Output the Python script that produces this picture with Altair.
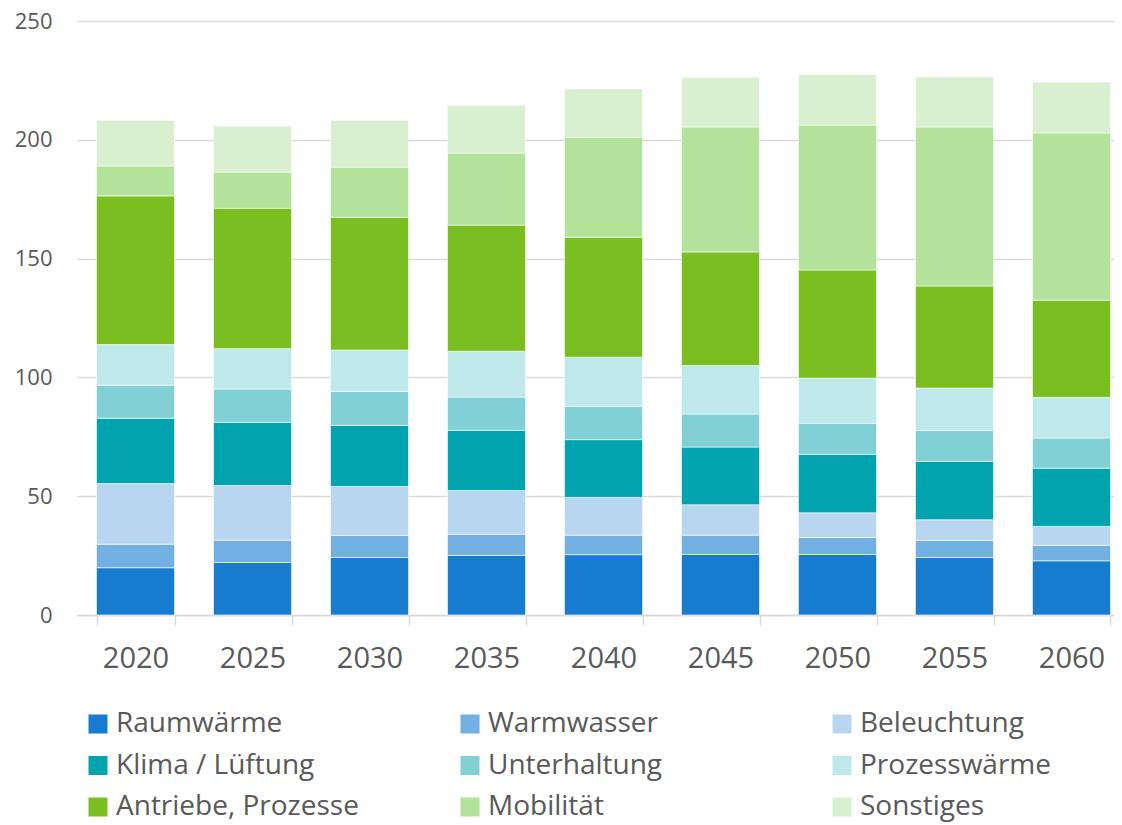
import altair as alt
import pandas as pd

years = ["2020", "2025", "2030", "2035", "2040", "2045", "2050", "2055", "2060"]
categories = ["Raumwärme", "Warmwasser", "Beleuchtung", "Klima / Lüftung", "Unterhaltung",
              "Prozesswärme", "Antriebe, Prozesse", "Mobilität", "Sonstiges"]
colors = ["#177bd0", "#72afe2", "#b9d6f0", "#00a3ae", "#81d0d5",
          "#bfe8ea", "#7abe21", "#b3e29b", "#d9f0d0"]

raumwaerme = [19.9, 22.1, 24.2, 25.1, 25.4, 25.5, 25.5, 24.2, 22.8]
warmwasser = [9.9, 9.4, 9.3, 8.9, 8.2, 8.1, 7.1, 7.2, 6.5]
beleuchtung = [25.5, 23.0, 20.6, 18.4, 15.9, 12.8, 10.4, 8.7, 8.0]
klima = [27.5, 26.6, 25.7, 25.3, 24.3, 24.3, 24.6, 24.6, 24.5]
unterhaltung = [13.9, 14.0, 14.3, 14.0, 14.0, 13.9, 13.1, 13.0, 12.7]
prozesswaerme = [17.1, 17.0, 17.4, 19.3, 20.7, 20.4, 19.0, 17.8, 17.1]
antriebe = [62.6, 59.1, 55.9, 53.1, 50.5, 47.8, 45.5, 43.0, 40.9]
mobilitaet = [12.6, 15.2, 21.1, 30.3, 42.0, 52.6, 61.0, 66.9, 70.4]
sonstiges = [19.2, 19.4, 19.7, 20.1, 20.4, 20.9, 21.3, 21.1, 21.4]

series = [raumwaerme, warmwasser, beleuchtung, klima, unterhaltung,
          prozesswaerme, antriebe, mobilitaet, sonstiges]

rows = []
for ci, (cat, vals) in enumerate(zip(categories, series)):
    for y, v in zip(years, vals):
        rows.append({"Jahr": y, "Kategorie": cat, "Wert": v, "idx": ci})
df = pd.DataFrame(rows)

FONT = "Open Sans"
TXT = "#595959"

chart = alt.Chart(df).mark_bar(stroke="white", strokeWidth=0.6).encode(
    x=alt.X("Jahr:N", sort=years, title=None,
            scale=alt.Scale(paddingInner=0.333, paddingOuter=0.1667, range=[0, 1053]),
            axis=alt.Axis(labelAngle=0, labelFontSize=29, labelColor=TXT, labelFont=FONT,
                          labelPadding=19, tickBand="extent", ticks=True, tickSize=10,
                          tickColor="#d9d9d9", tickWidth=1.5, domainColor="#d9d9d9",
                          domainWidth=1.5, grid=False)),
    y=alt.Y("Wert:Q", title=None, stack="zero",
            scale=alt.Scale(domain=[0, 250], nice=False),
            axis=alt.Axis(values=[0, 50, 100, 150, 200, 250], labelFontSize=22,
                          labelColor=TXT, labelFont=FONT, labelPadding=25, ticks=False,
                          domain=False, grid=True, gridColor="#d9d9d9", gridWidth=1.3)),
    color=alt.Color("Kategorie:N", sort=categories,
                    scale=alt.Scale(domain=categories, range=colors),
                    legend=alt.Legend(title=None, orient="none", legendX=7, legendY=689,
                                      direction="horizontal", columns=3, gridAlign="all",
                                      columnPadding=97, rowPadding=13.5, symbolType="square",
                                      symbolSize=361, symbolStrokeWidth=0, labelFontSize=28,
                                      labelColor=TXT, labelFont=FONT, labelOffset=4,
                                      labelLimit=400, padding=0)),
    order=alt.Order("idx:Q", sort="ascending"),
).properties(
    width=1037, height=594,
    autosize=alt.AutoSizeParams(type="none"),
    padding={"left": 69, "top": 13, "right": 0, "bottom": 209},
).configure_view(stroke=None)

chart.save("out.html", embed_options={"renderer": "svg", "actions": False})
